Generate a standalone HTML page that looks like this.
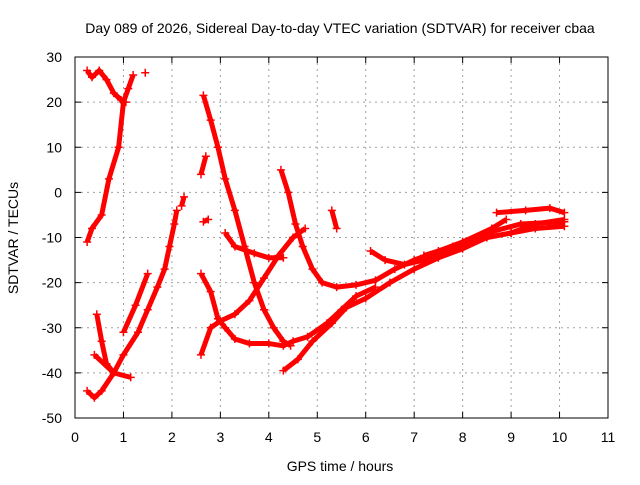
<!DOCTYPE html>
<html><head><meta charset="utf-8"><style>
body{margin:0;background:#fff}
svg{font-family:"Liberation Sans",sans-serif;font-size:14px}
</style></head><body>
<svg id="c" width="640" height="480">
<text x="340" y="33" text-anchor="middle">Day 089 of 2026, Sidereal Day-to-day VTEC variation (SDTVAR) for receiver cbaa</text>
<text x="340" y="471" text-anchor="middle">GPS time / hours</text>
<text transform="translate(18,238) rotate(-90)" text-anchor="middle">SDTVAR / TECUs</text>
<g id="grid"></g><g id="ticks"></g><g id="marks"></g>
<rect x="75" y="57" width="533" height="361" fill="none" stroke="#000"/>
</svg>
<script>
const xTicks=[0,1,2,3,4,5,6,7,8,9,10,11];
const yTicks=[30,20,10,0,-10,-20,-30,-40,-50];
const trackA=[[0.25,27],[0.35,25.5],[0.5,27],[0.65,25],[0.8,22],[0.95,20.5],[1.05,20]];
const trackB=[[1.2,26],[1.1,23],[1.0,20],[0.9,10],[0.7,3],[0.55,-5],[0.35,-8],[0.25,-11]];
const trackC=[[0.25,-44],[0.4,-45.5],[0.55,-44],[0.8,-40],[1.0,-36],[1.3,-31],[1.5,-26],[1.7,-21],[1.85,-17],[1.95,-12],[2.05,-7],[2.1,-4]];
const trackD=[[0.45,-27],[0.55,-33],[0.65,-38],[0.8,-40]];
const trackE=[[0.4,-36],[0.8,-40],[1.15,-41]];
const trackF=[[1.0,-31],[1.25,-25],[1.5,-18]];
const trackG=[[2.65,21.5],[2.8,16],[2.95,10],[3.1,3],[3.3,-4],[3.5,-12],[3.7,-20],[3.9,-26],[4.1,-30],[4.3,-33],[4.45,-34]];
const trackH=[[2.6,-36],[2.8,-30],[3.0,-28.5],[3.3,-27],[3.6,-24],[3.9,-19],[4.2,-14],[4.5,-10],[4.75,-8]];
const trackI=[[2.6,-18],[2.8,-22],[2.95,-28],[3.1,-30],[3.3,-32.5],[3.6,-33.5],[4.0,-33.5],[4.3,-34],[4.5,-33],[4.8,-32],[5.2,-29],[5.5,-26],[5.8,-23],[6.2,-21]];
const trackJ=[[3.1,-9],[3.3,-12],[3.7,-13.5],[4.0,-14.5],[4.3,-14.5]];
const trackK=[[4.25,5],[4.4,0],[4.55,-7],[4.7,-12],[4.9,-17],[5.1,-20],[5.4,-21],[5.8,-20.5],[6.2,-19.5],[6.6,-17],[7.0,-15],[7.5,-13],[8.0,-11],[8.6,-8],[8.9,-6]];
const trackL=[[4.3,-39.5],[4.6,-37],[4.9,-33],[5.3,-29],[5.6,-25.5],[6.0,-23.5],[6.5,-20],[7.0,-17],[7.5,-14.5],[8.0,-12.5],[8.5,-10],[9.0,-9],[9.5,-8],[10.1,-7.5]];
const trackM=[[6.1,-13],[6.4,-15],[6.8,-16],[7.2,-15],[7.6,-13.5],[8.0,-11.5],[8.5,-10],[9.0,-9],[9.5,-7],[10.1,-6]];
const trackN=[[8.7,-4.5],[9.3,-4],[9.8,-3.5],[10.1,-4.5]];
const trackO=[[7.2,-14],[7.8,-12],[8.5,-9],[9.2,-7],[10.1,-6.5]];
const trackP=[[2.7,8],[2.6,4]];
const trackQ=[[2.75,-6],[2.65,-6.5]];
const trackR=[[5.3,-4],[5.4,-8]];
const trackS=[[1.45,26.5]];
const trackT=[[2.25,-1],[2.2,-3]];
const tracks=[trackA,trackB,trackC,trackD,trackE,trackF,trackG,trackH,trackI,trackJ,trackK,trackL,trackM,trackN,trackO,trackP,trackQ,trackR,trackS,trackT];
const NS='http://www.w3.org/2000/svg';
const X=h=>75+h*533/11, Y=v=>57+(30-v)*361/80;
const grid=document.getElementById('grid'),ticks=document.getElementById('ticks'),marks=document.getElementById('marks');
function mk(t,a,p){const e=document.createElementNS(NS,t);for(const k in a)e.setAttribute(k,a[k]);p.appendChild(e);return e;}
xTicks.forEach(t=>{const x=X(t);
 if(t>0&&t<11){const g=mk('line',{x1:x,y1:57,x2:x,y2:418,stroke:'#a0a0a0','stroke-dasharray':'2,4'},grid);
 
 }
 mk('line',{x1:x,y1:418,x2:x,y2:412,stroke:'#000'},ticks);mk('line',{x1:x,y1:57,x2:x,y2:63,stroke:'#000'},ticks);
 const l=mk('text',{x:x,y:442,'text-anchor':'middle'},ticks);l.textContent=t;
 
 });
yTicks.forEach(t=>{const y=Y(t);
 if(t<30&&t>-50){const g=mk('line',{x1:75,y1:y,x2:608,y2:y,stroke:'#a0a0a0','stroke-dasharray':'2,4'},grid);
 
 }
 mk('line',{x1:75,y1:y,x2:81,y2:y,stroke:'#000'},ticks);mk('line',{x1:608,y1:y,x2:602,y2:y,stroke:'#000'},ticks);
 const l=mk('text',{x:62,y:y+5,'text-anchor':'end'},ticks);l.textContent=t;
 
 });
tracks.forEach(tr=>{
 const g=mk('g',{},marks);
 
 
 if(tr.length>1){mk('polyline',{points:tr.map(p=>X(p[0])+','+Y(p[1])).join(' '),fill:'none',stroke:'#f00','stroke-width':5,'stroke-linejoin':'round'},g);}
 tr.forEach(p=>{const x=X(p[0]),y=Y(p[1]);
  mk('path',{d:`M${x-4},${y}H${x+4}M${x},${y-4}V${y+4}`,stroke:'#f00','stroke-width':1.5},g);});
});
</script>
</body></html>
